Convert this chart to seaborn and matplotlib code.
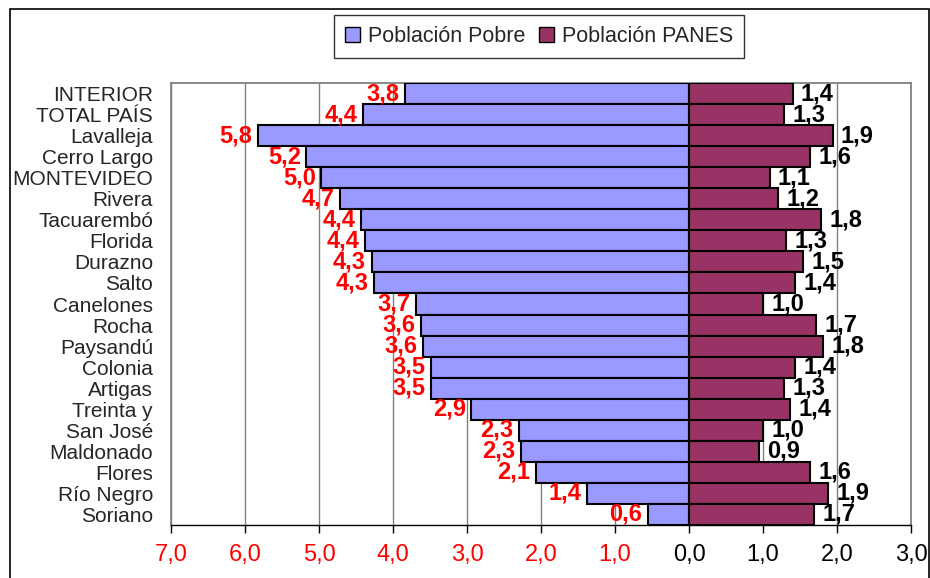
import matplotlib
matplotlib.use('Agg')
import matplotlib.pyplot as plt
from matplotlib.patches import Patch, Rectangle
import pandas as pd
import seaborn as sns

categorias = ['INTERIOR', 'TOTAL PAÍS', 'Lavalleja', 'Cerro Largo', 'MONTEVIDEO',
              'Rivera', 'Tacuarembó', 'Florida', 'Durazno', 'Salto', 'Canelones',
              'Rocha', 'Paysandú', 'Colonia', 'Artigas', 'Treinta y', 'San José',
              'Maldonado', 'Flores', 'Río Negro', 'Soriano']
pobre = [3.84, 4.41, 5.83, 5.17, 4.97, 4.72, 4.43, 4.38, 4.29, 4.26, 3.69,
         3.62, 3.60, 3.49, 3.49, 2.94, 2.30, 2.27, 2.07, 1.38, 0.56]
panes = [1.40, 1.28, 1.94, 1.64, 1.09, 1.20, 1.78, 1.31, 1.54, 1.43, 1.00,
         1.72, 1.81, 1.43, 1.28, 1.37, 1.00, 0.94, 1.64, 1.88, 1.69]
ticks = [-7, -6, -5, -4, -3, -2, -1, 0, 1, 2, 3]

df = pd.DataFrame({'categoria': categorias,
                   'pobre': [-v for v in pobre],
                   'panes': panes})

sns.set_theme(style='white')
plt.rcParams['font.family'] = ['Liberation Sans', 'DejaVu Sans']

c_pobre = '#9999FF'
c_panes = '#993366'

fig = plt.figure(figsize=(9.3, 5.78), dpi=100)
ax = fig.add_axes([171 / 930, 53 / 578, 740 / 930, 442 / 578])

sns.barplot(data=df, x='pobre', y='categoria', orient='h', color=c_pobre,
            saturation=1, width=1.0, edgecolor='black', linewidth=1.5, ax=ax, zorder=3)
sns.barplot(data=df, x='panes', y='categoria', orient='h', color=c_panes,
            saturation=1, width=1.0, edgecolor='black', linewidth=1.5, ax=ax, zorder=3)

fmt = lambda v: f'{v:.1f}'.replace('.', ',')
ax.bar_label(ax.containers[0], labels=[fmt(v) for v in pobre], padding=4,
             color='red', fontweight='bold', fontsize=17)
ax.bar_label(ax.containers[1], labels=[fmt(v) for v in panes], padding=6,
             color='black', fontweight='bold', fontsize=17)

ax.set_xlim(-7, 3)
ax.set_ylim(20.5, -0.5)
ax.set_xticks(ticks)
ax.set_xticklabels([fmt(abs(t)) for t in ticks], fontsize=17)
for lab, t in zip(ax.get_xticklabels(), ticks):
    lab.set_color('red' if t < 0 else 'black')
ax.tick_params(axis='x', direction='out', length=6, width=1, color='black', pad=8, bottom=True)
ax.tick_params(axis='y', length=0, pad=13, labelsize=15)
ax.set_xlabel('')
ax.set_ylabel('')

ax.grid(axis='x', color='#808080', linewidth=1)
ax.grid(axis='y', visible=False)
ax.set_axisbelow(True)
for s in ['top', 'left', 'right']:
    ax.spines[s].set_color('#808080')
    ax.spines[s].set_linewidth(1.3)
ax.spines['bottom'].set_color('black')
ax.spines['bottom'].set_linewidth(1)

handles = [Patch(facecolor=c_pobre, edgecolor='black', label='Población Pobre'),
           Patch(facecolor=c_panes, edgecolor='black', label='Población PANES')]
leg = fig.legend(handles=handles, loc='center', bbox_to_anchor=(539 / 930, 1 - 36.5 / 578),
                 ncol=2, frameon=True, fancybox=False, edgecolor='black', fontsize=15.5,
                 handlelength=0.7, handleheight=0.7, handletextpad=0.4,
                 columnspacing=0.6, borderpad=0.5)
leg.get_frame().set_linewidth(1)

fig.patches.append(Rectangle((10 / 930, -0.1), 919 / 930, 1.1 - 9 / 578,
                             transform=fig.transFigure, fill=False,
                             edgecolor='black', linewidth=1.2))

fig.savefig('out.png', dpi=100)
